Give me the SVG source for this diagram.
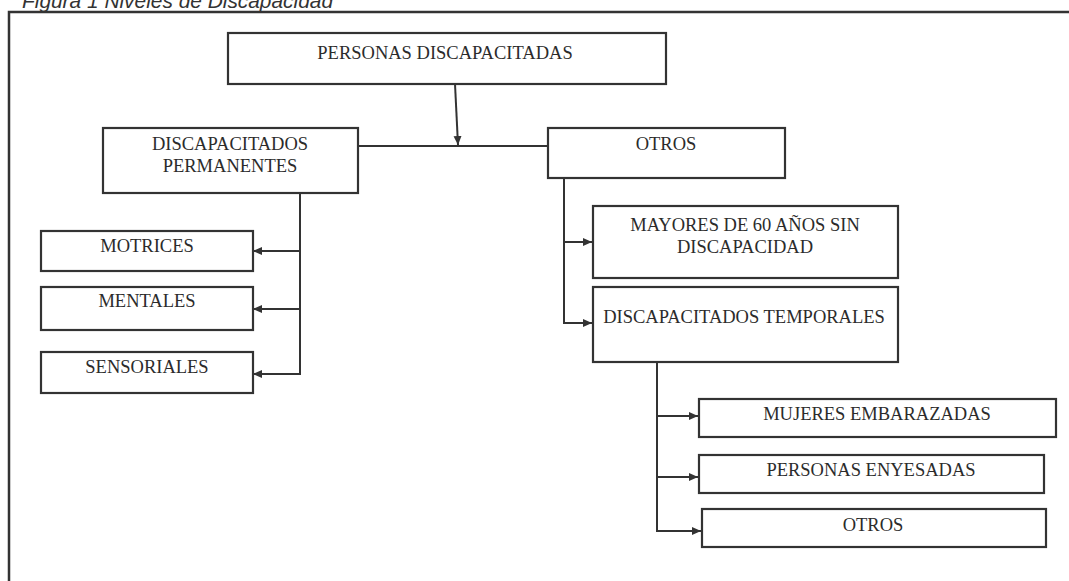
<svg xmlns="http://www.w3.org/2000/svg" width="1069" height="581" viewBox="0 0 1069 581">
<defs>
<style>
.box{fill:#fff;stroke:#333;stroke-width:2.2}
.t{font-family:"Liberation Serif","Times New Roman",serif;font-size:18.5px;fill:#2b2b2b;text-anchor:middle}
.c{fill:none;stroke:#333;stroke-width:2}
.cap{font-family:"Liberation Sans",Arial,sans-serif;font-style:italic;font-size:21px;fill:#333}
</style>
<marker id="ah" markerUnits="userSpaceOnUse" markerWidth="10" markerHeight="10" refX="9" refY="5" orient="auto">
<path d="M0,1 L9,5 L0,9 z" fill="#333"/>
</marker>
</defs>
<rect width="1069" height="581" fill="#fff"/>
<text class="cap" x="22" y="8" textLength="311" lengthAdjust="spacingAndGlyphs">Figura 1 Niveles de Discapacidad</text>
<path d="M9,581 V12 H1069" fill="none" stroke="#333" stroke-width="2.5"/>

<g id="connectors">
<path class="c" d="M455,84 L458,145" marker-end="url(#ah)"/>
<path class="c" d="M358,146 H548"/>
<path class="c" d="M300,193 V374 H253" marker-end="url(#ah)"/>
<path class="c" d="M300,251 H253" marker-end="url(#ah)"/>
<path class="c" d="M300,309 H253" marker-end="url(#ah)"/>
<path class="c" d="M564,178 V323 H592" marker-end="url(#ah)"/>
<path class="c" d="M564,242 H592" marker-end="url(#ah)"/>
<path class="c" d="M657,362 V531 H701" marker-end="url(#ah)"/>
<path class="c" d="M657,416 H698" marker-end="url(#ah)"/>
<path class="c" d="M657,477 H698" marker-end="url(#ah)"/>
</g>

<g id="n-personas"><rect class="box" x="228" y="33" width="438" height="51"/><text class="t" x="445" y="59">PERSONAS DISCAPACITADAS</text></g>
<g id="n-permanentes"><rect class="box" x="103" y="128" width="255" height="65"/><text class="t" x="230" y="150">DISCAPACITADOS</text><text class="t" x="230" y="172">PERMANENTES</text></g>
<g id="n-otros"><rect class="box" x="548" y="128" width="237" height="50"/><text class="t" x="666" y="150">OTROS</text></g>
<g id="n-motrices"><rect class="box" x="41" y="231" width="212" height="40"/><text class="t" x="147" y="252">MOTRICES</text></g>
<g id="n-mentales"><rect class="box" x="41" y="287" width="212" height="43"/><text class="t" x="147" y="307">MENTALES</text></g>
<g id="n-sensoriales"><rect class="box" x="41" y="352" width="212" height="41"/><text class="t" x="147" y="373">SENSORIALES</text></g>
<g id="n-mayores"><rect class="box" x="593" y="206" width="305" height="72"/><text class="t" x="745" y="231">MAYORES DE 60 AÑOS SIN</text><text class="t" x="745" y="253">DISCAPACIDAD</text></g>
<g id="n-temporales"><rect class="box" x="593" y="287" width="305" height="75"/><text class="t" x="744" y="323">DISCAPACITADOS TEMPORALES</text></g>
<g id="n-mujeres"><rect class="box" x="699" y="399" width="357" height="38"/><text class="t" x="877" y="420">MUJERES EMBARAZADAS</text></g>
<g id="n-enyesadas"><rect class="box" x="699" y="455" width="345" height="38"/><text class="t" x="871" y="476">PERSONAS ENYESADAS</text></g>
<g id="n-otros2"><rect class="box" x="702" y="509" width="344" height="38"/><text class="t" x="873" y="531">OTROS</text></g>
</svg>
